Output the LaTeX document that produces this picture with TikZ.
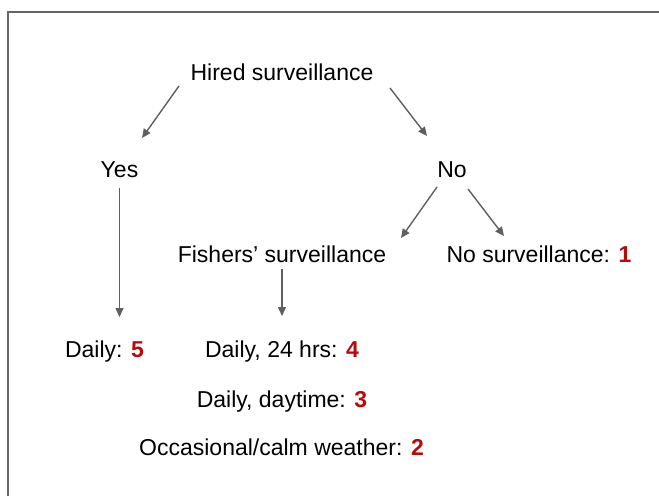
\documentclass[tikz,border=0pt]{standalone}
\usepackage{fontspec}
\setmainfont{Liberation Sans}
\usepackage{xcolor}
\usetikzlibrary{arrows.meta}
\definecolor{scorered}{RGB}{185, 10, 10}
\definecolor{arrowgray}{RGB}{95, 95, 95}
\definecolor{framegray}{RGB}{100, 100, 100}
\newcommand{\score}[1]{\textcolor{scorered}{\textbf{#1}}}

\begin{document}
\begin{tikzpicture}[
  x=1pt, y=-1pt,
  label text/.style={anchor=base, inner sep=0, font=\fontsize{23}{28}\selectfont},
  branch/.style={draw=arrowgray, line width=1.4pt, -{Triangle[length=9pt, width=8pt]}},
  frame/.style={draw=framegray, line width=2pt},
]

% Canvas and frame (cut at right and bottom)
\useasboundingbox (0, 0) rectangle (659, 496);
\draw[frame] (8, 496) -- (8, 12) -- (659, 12);

% ==================== question ====================
\node[label text] (hired) at (282, 80) {Hired surveillance};

% ==================== answers ====================
\node[label text] (yes) at (119.5, 177) {Yes};
\node[label text] (no) at (452, 177) {No};

\node[label text] (fishers) at (282, 262) {Fishers’ surveillance};
\node[label text] (nosurv) at (539, 262) {No surveillance: \score{1}};

% ==================== scores ====================
\node[label text] (daily5) at (104.5, 357) {Daily: \score{5}};
\node[label text] (daily24) at (282, 357) {Daily, 24 hrs: \score{4}};
\node[label text] (daytime) at (282, 407) {Daily, daytime: \score{3}};
\node[label text] (occasional) at (281.5, 455) {Occasional/calm weather: \score{2}};

% ==================== branches ====================
\draw[branch] ([shift={(-103, 6)}]hired.base) -- ([shift={(22.5, -39)}]yes.base);
\draw[branch] ([shift={(108, 8)}]hired.base) -- ([shift={(-25, -41)}]no.base);
\draw[branch] ([shift={(0, 11)}]yes.base) -- ([shift={(15, -40)}]daily5.base);
\draw[branch] ([shift={(-15, 10)}]no.base) -- ([shift={(119, -24)}]fishers.base);
\draw[branch] ([shift={(16, 12)}]no.base) -- ([shift={(-35, -26)}]nosurv.base);
\draw[branch] ([shift={(0, 7)}]fishers.base) -- ([shift={(0, -41)}]daily24.base);

\end{tikzpicture}
\end{document}
